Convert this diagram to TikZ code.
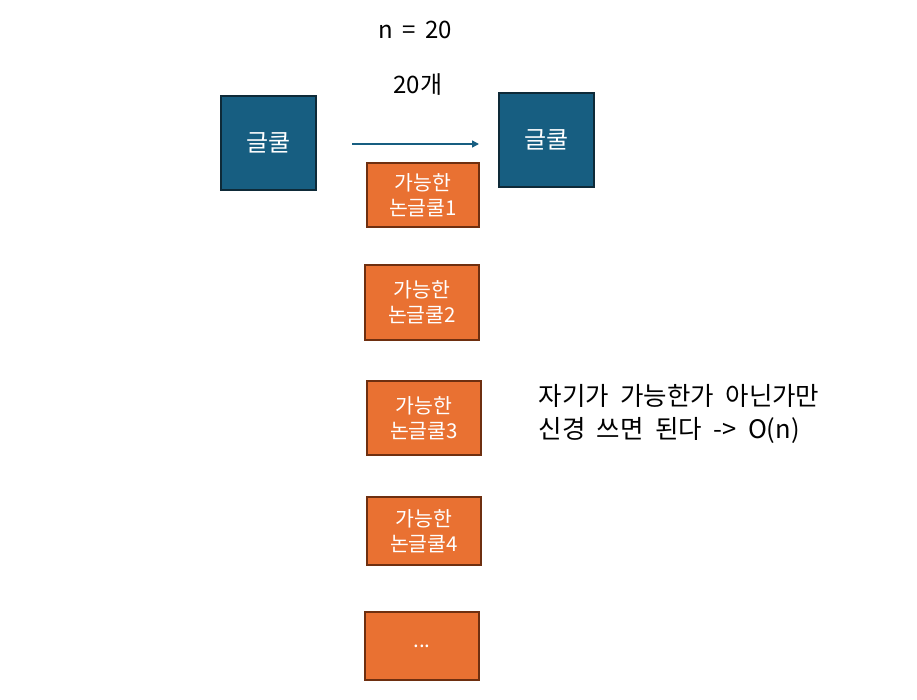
\documentclass[tikz,border=0pt]{standalone}
\usepackage{fontspec}
\setmainfont{Noto Sans CJK KR}
\usetikzlibrary{arrows.meta}
\begin{document}
\begin{tikzpicture}[x=1pt,y=-1pt,
  bluebox/.style={draw=bluedark,fill=blueM,line width=1.8pt,text=white,font=\fontsize{24}{28}\selectfont},
  orangebox/.style={draw=orangedark,fill=orangeM,line width=1.8pt,text=white,align=center,inner sep=0pt,font=\fontsize{20.5}{25}\selectfont},
  plain/.style={font=\fontsize{24}{28}\selectfont,text=black}]
\definecolor{blueM}{HTML}{175E81}
\definecolor{bluedark}{HTML}{0E2A38}
\definecolor{orangeM}{HTML}{E97132}
\definecolor{orangedark}{HTML}{6E2F10}
\useasboundingbox (0,0) rectangle (917,699);
\node[bluebox,minimum width=95pt,minimum height=94pt] (g1) at (268.5,143) {글쿨};
\node[bluebox,minimum width=95pt,minimum height=94pt] (g2) at (546.5,140) {글쿨};
\coordinate (a1) at (352,144);
\coordinate (a2) at (479,144);
\draw[blueM,line width=1.5pt,-{Triangle[length=7pt,width=7pt]}] (a1) -- (a2);
\node[orangebox,minimum width=112pt,minimum height=64pt] (o1) at (423,195) {가능한\\논글쿨1};
\node[orangebox,minimum width=114pt,minimum height=75pt] (o2) at (422,302.5) {가능한\\논글쿨2};
\node[orangebox,minimum width=114pt,minimum height=74pt] (o3) at (424,418) {가능한\\논글쿨3};
\node[orangebox,minimum width=114pt,minimum height=68pt] (o4) at (424,531) {가능한\\논글쿨4};
\node[orangebox,minimum width=114pt,minimum height=68pt] (o5) at (422,646) {...};
\node[plain] (n) at (415,30) {n {}\,={}\, 20};
\node[plain] (c) at (418,85) {20개};
\node[plain,anchor=west,align=left,font=\fontsize{25.5}{33}\selectfont] (t) at (535,414) {자기가\ \ 가능한가\ \ 아닌가만\\신경\ \ 쓰면\ \ 된다\ \ ->\ \ O(n)};
\end{tikzpicture}
\end{document}
